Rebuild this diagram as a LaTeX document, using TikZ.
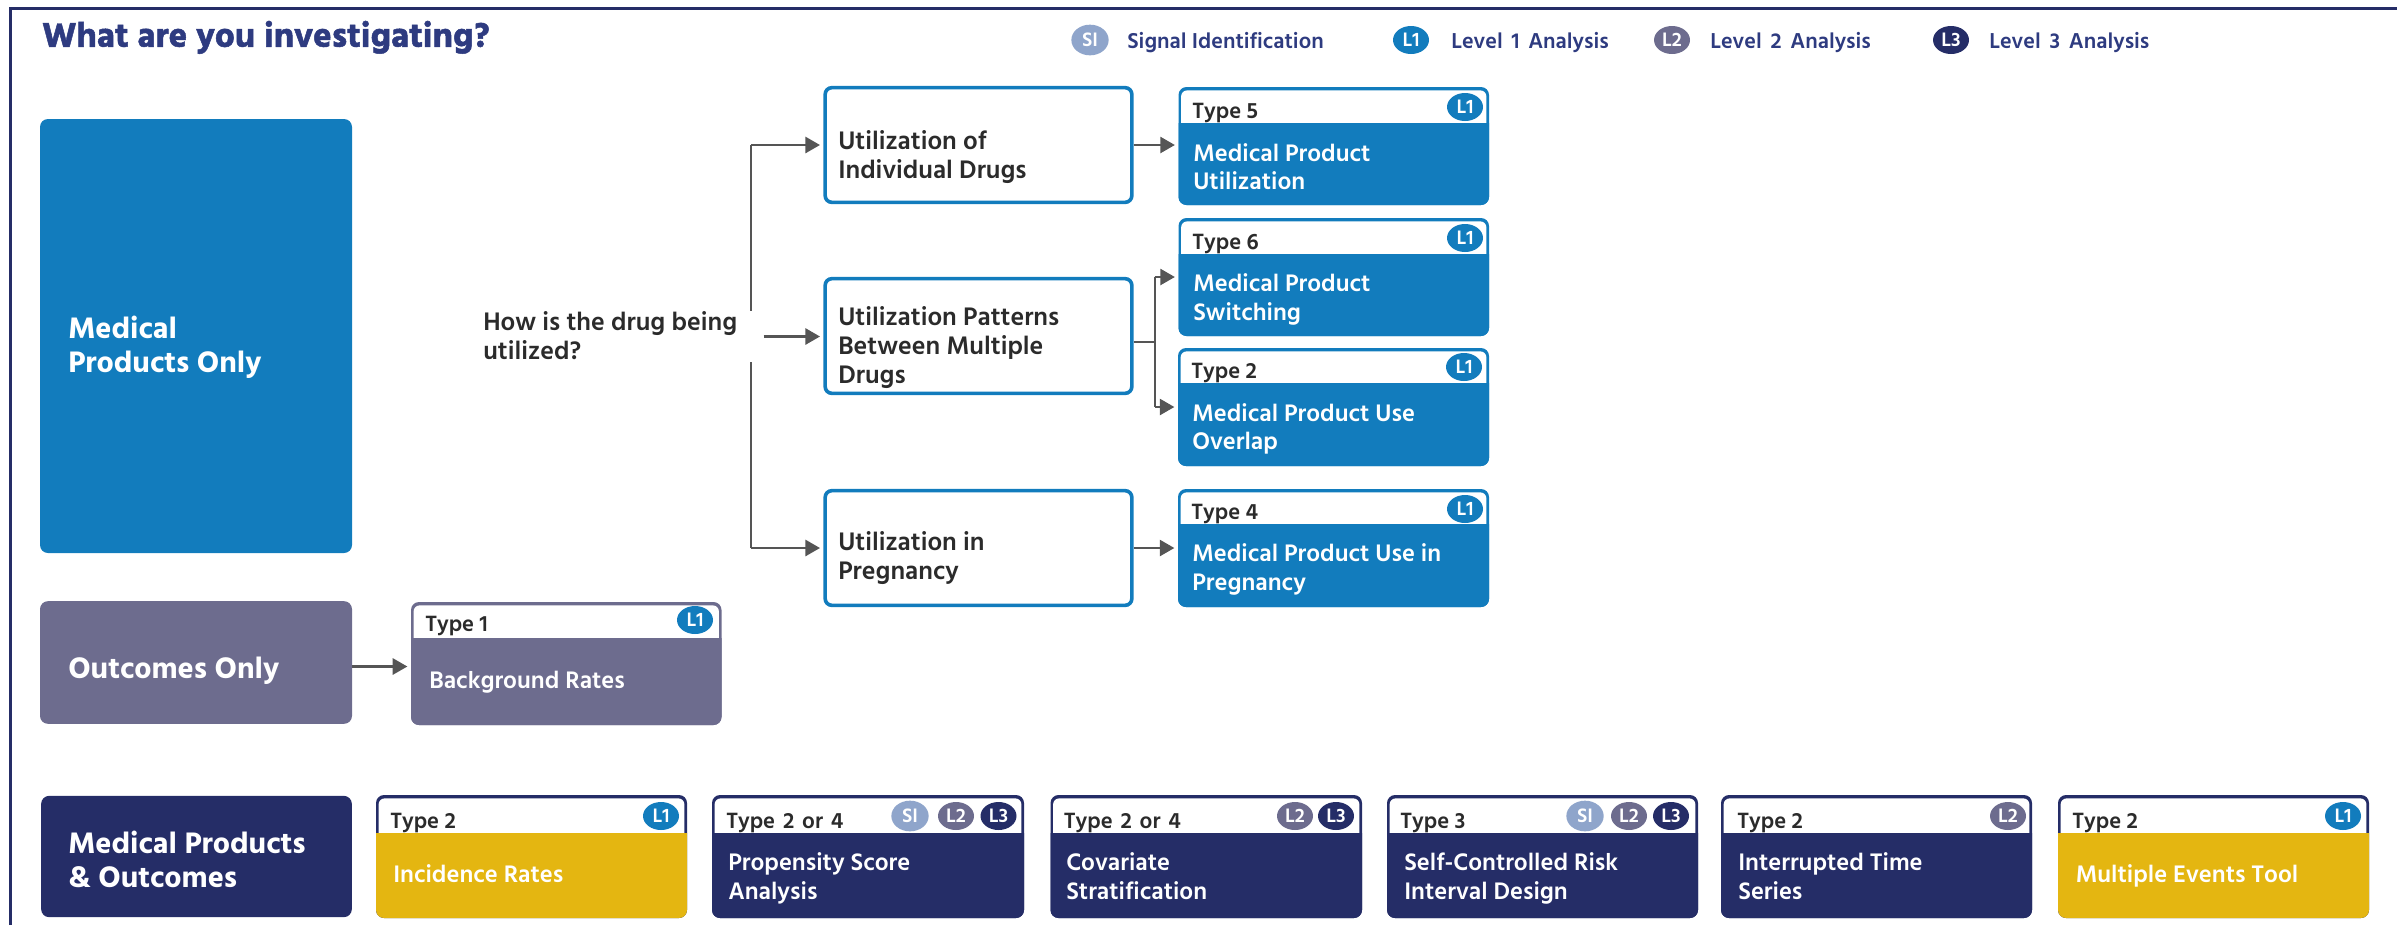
\documentclass[tikz,border=0pt]{standalone}
\usepackage{fontspec}
\usetikzlibrary{shapes.geometric,arrows.meta,calc}
\setmainfont{Hind Siliguri}
\newfontfamily\hsb{Hind Siliguri SemiBold}
\newfontfamily\hbd{Hind Siliguri Bold}
\newfontfamily\hbk{Hind Siliguri Bold}[FakeBold=1.4]
\definecolor{blu}{HTML}{127CBD}
\definecolor{lvtwo}{HTML}{6D6C8E}
\definecolor{nvy}{HTML}{252D67}
\definecolor{ylw}{HTML}{E4B611}
\definecolor{sig}{HTML}{8FA5CB}
\definecolor{ttl}{HTML}{2E3B80}
\definecolor{ink}{HTML}{2B2B2B}
\definecolor{wire}{HTML}{555555}
\newcommand{\wsp}{\hspace{2.6pt}}
\newcommand{\tsp}{\hspace{1.8pt}}
\tikzset{
  lbl/.style={anchor=west,align=left,inner sep=0pt,yshift=-2.6pt,execute at begin node=\strut,execute at end node=\strut},
  maintxt/.style={lbl,text=white,font=\fontsize{22.8}{25.5}\selectfont\hbd},
  typetxt/.style={lbl,text=ink,font=\fontsize{17}{20}\selectfont\hsb},
  bodytxt/.style={lbl,text=white,font=\fontsize{18.4}{21.5}\selectfont\hsb},
  utiltxt/.style={lbl,text=ink,font=\fontsize{19.5}{21.8}\selectfont\hsb},
  legtxt/.style={lbl,text=ttl,font=\fontsize{16.6}{18}\selectfont\hsb},
  badge/.style={ellipse,inner sep=0pt,minimum width=27pt,minimum height=21pt,text=white,font=\fontsize{15}{15}\selectfont\hsb},
  arw/.style={wire,line width=2.1pt,-{Triangle[length=11pt,width=12pt]},shorten >=2.5pt},
  wr/.style={wire,line width=1.5pt},
  panel/.style={rectangle,inner sep=0pt,rounded corners=6pt},
  util/.style={rectangle,inner sep=0pt,draw=blu,fill=white,line width=2.7pt,rounded corners=5pt,minimum width=230pt,minimum height=86pt}
}
\newcommand{\tbox}[8]{%
  \node[panel,fill=#8,minimum width={(#4-#2)*0.75pt},minimum height={(#5-#3)*0.75pt}] (#1) at ({(#2+#4)/2},{(#3+#5)/2}) {};
  \fill[white] (#2+2.6,#6) [rounded corners=4.5pt] -- (#2+2.6,#3+3.4) -- (#4-2.6,#3+3.4) [sharp corners] -- (#4-2.6,#6) -- cycle;
  \fill[#7] (#2,#6) -- (#4,#6) [rounded corners=6pt] -- (#4,#5) -- (#2,#5) [sharp corners] -- cycle;
}
\begin{document}
\begin{tikzpicture}[x=0.75pt,y=-0.75pt]
\useasboundingbox (0,0) rectangle (2397,925);
\draw[nvy,line width=1.9pt] (10.5,925) -- (10.5,8.5) -- (2397,8.5);
\node[lbl,text=ttl,font=\fontsize{26.4}{30}\selectfont\hbk,yshift=1.2pt] (title) at (42,37) {What are you investigating?};
% legend
\node[badge,fill=sig,minimum width=28pt,minimum height=23pt] (lsi) at (1090,40) {SI};
\node[legtxt] (lsit) at (1127,40) {Signal Identification};
\node[badge,fill=blu] (ll1) at (1411,40) {L1};
\node[legtxt] (ll1t) at (1451,40) {Level\wsp{} 1\wsp{} Analysis};
\node[badge,fill=lvtwo] (ll2) at (1672,40) {L2};
\node[legtxt] (ll2t) at (1710,40) {Level\wsp{} 2\wsp{} Analysis};
\node[badge,fill=nvy] (ll3) at (1951,40) {L3};
\node[legtxt] (ll3t) at (1989,40) {Level\wsp{} 3\wsp{} Analysis};
% left panels
\node[panel,fill=blu,minimum width=234pt,minimum height=325.5pt] (mp) at (196,336) {};
\node[maintxt] (mpt) at (68,346) {Medical\\Products Only};
\node[panel,fill=lvtwo,minimum width=234pt,minimum height=92pt] (out) at (196,662.5) {};
\node[maintxt] (outt) at (68,668.5) {Outcomes Only};
\node[panel,fill=nvy,minimum width=233pt,minimum height=91pt] (mpo) at (196.5,856.5) {};
\node[maintxt] (mpot) at (68,860.5) {Medical Products\\\& Outcomes};
% question
\node[rectangle,inner sep=0pt,anchor=west,fill=white,minimum width=210pt,minimum height=38pt] (q) at (483,336.5) {};
\node[lbl,text=ink,font=\fontsize{19.5}{22}\selectfont\hsb] (qt) at (q.west) {How is the drug being\\utilized?};
% utilisation boxes
\node[util] (u1) at (978.5,145) {};
\node[utiltxt] at (838,155.5) {Utilization of\\Individual Drugs};
\node[util] (u2) at (978.5,336) {};
\node[utiltxt] at (838,346) {Utilization Patterns\\Between Multiple\\Drugs};
\node[util] (u3) at (978.5,548) {};
\node[utiltxt] at (838,556.5) {Utilization in\\Pregnancy};
% type boxes (upper)
\tbox{t5}{1178.5}{87}{1489}{205}{123}{blu}{blu}
\node[typetxt] at (1192,110) {Type 5};
\node[badge,fill=blu] at (1465,107) {L1};
\node[bodytxt] at (1193,167.5) {Medical Product\\Utilization};
\tbox{t6}{1178.5}{218}{1489}{336}{254}{blu}{blu}
\node[typetxt] at (1192,241) {Type 6};
\node[badge,fill=blu] at (1465,238) {L1};
\node[bodytxt] at (1193,298) {Medical Product\\Switching};
\tbox{t2}{1178}{348}{1489}{466}{383}{blu}{blu}
\node[typetxt] at (1191,370) {Type 2};
\node[badge,fill=blu] at (1464,367) {L1};
\node[bodytxt] at (1192,427.5) {Medical Product Use\\Overlap};
\tbox{t4}{1178}{489}{1489}{607}{524}{blu}{blu}
\node[typetxt] at (1191,510.5) {Type 4};
\node[badge,fill=blu] at (1465,509) {L1};
\node[bodytxt] at (1192,568) {Medical Product Use in\\Pregnancy};
\tbox{t1}{411}{602}{721.5}{725}{638}{lvtwo}{lvtwo}
\node[typetxt] at (425,622.5) {Type 1};
\node[badge,fill=blu] at (695,620) {L1};
\node[bodytxt] at (429,679) {Background Rates};
% type boxes (lower)
\tbox{b1}{376}{795}{687}{918}{833}{ylw}{nvy}
\node[typetxt] at (390,819.5) {Type 2};
\node[badge,fill=blu] at (661,816) {L1};
\node[bodytxt] at (393,873) {Incidence Rates};
\tbox{b2}{712}{795}{1024}{918}{833}{nvy}{nvy}
\node[typetxt] at (726,819.5) {Type\tsp{} 2\tsp{} or\tsp{} 4};
\node[badge,fill=sig,minimum width=28pt,minimum height=23pt] at (910,816) {SI};
\node[badge,fill=lvtwo] at (956,816) {L2};
\node[badge,fill=nvy] at (998.5,816) {L3};
\node[bodytxt] at (728,877) {Propensity Score\\Analysis};
\tbox{b3}{1050.5}{795}{1362}{918}{833}{nvy}{nvy}
\node[typetxt] at (1063.5,819.5) {Type\tsp{} 2\tsp{} or\tsp{} 4};
\node[badge,fill=lvtwo] at (1295,816) {L2};
\node[badge,fill=nvy] at (1336,816) {L3};
\node[bodytxt] at (1066,877) {Covariate\\Stratification};
\tbox{b4}{1387}{795}{1698}{918}{833}{nvy}{nvy}
\node[typetxt] at (1400,819.5) {Type 3};
\node[badge,fill=sig,minimum width=28pt,minimum height=23pt] at (1585,816) {SI};
\node[badge,fill=lvtwo] at (1629,816) {L2};
\node[badge,fill=nvy] at (1671,816) {L3};
\node[bodytxt] at (1404,877) {Self-Controlled Risk\\Interval Design};
\tbox{b5}{1721}{795}{2032}{918}{833}{nvy}{nvy}
\node[typetxt] at (1737,819.5) {Type 2};
\node[badge,fill=lvtwo] at (2008,816) {L2};
\node[bodytxt] at (1738,877) {Interrupted Time\\Series};
\tbox{b6}{2058}{795}{2369}{918}{833}{ylw}{nvy}
\node[typetxt] at (2072,819.5) {Type 2};
\node[badge,fill=blu] at (2343,816) {L1};
\node[bodytxt] at (2075.5,873) {Multiple Events Tool};
% connectors
\coordinate (br) at (751,336);
\coordinate (jn) at (1154.5,342);
\coordinate (brt) at (br |- u1.west);
\coordinate (brb) at (br |- u3.west);
\draw[arw] (q.east) -- (q.east -| u2.west);
\draw[wr] (q.north -| br) -- (brt);
\draw[arw] (brt) -- (u1.west);
\draw[wr] (q.south -| br) -- (brb);
\draw[arw] (brb) -- (u3.west);
\draw[arw] (u1.east) -- (u1.east -| t5.west);
\draw[wr] (jn -| u2.east) -- (jn);
\draw[wr] (jn |- t6.west) -- (jn |- t2.west);
\draw[arw] (jn |- t6.west) -- (t6.west);
\draw[arw] (jn |- t2.west) -- (t2.west);
\draw[arw] (u3.east) -- (u3.east -| t4.west);
\draw[arw] ([yshift=-3pt]out.east) -- ([yshift=-3pt]out.east -| t1.west);
\end{tikzpicture}
\end{document}
